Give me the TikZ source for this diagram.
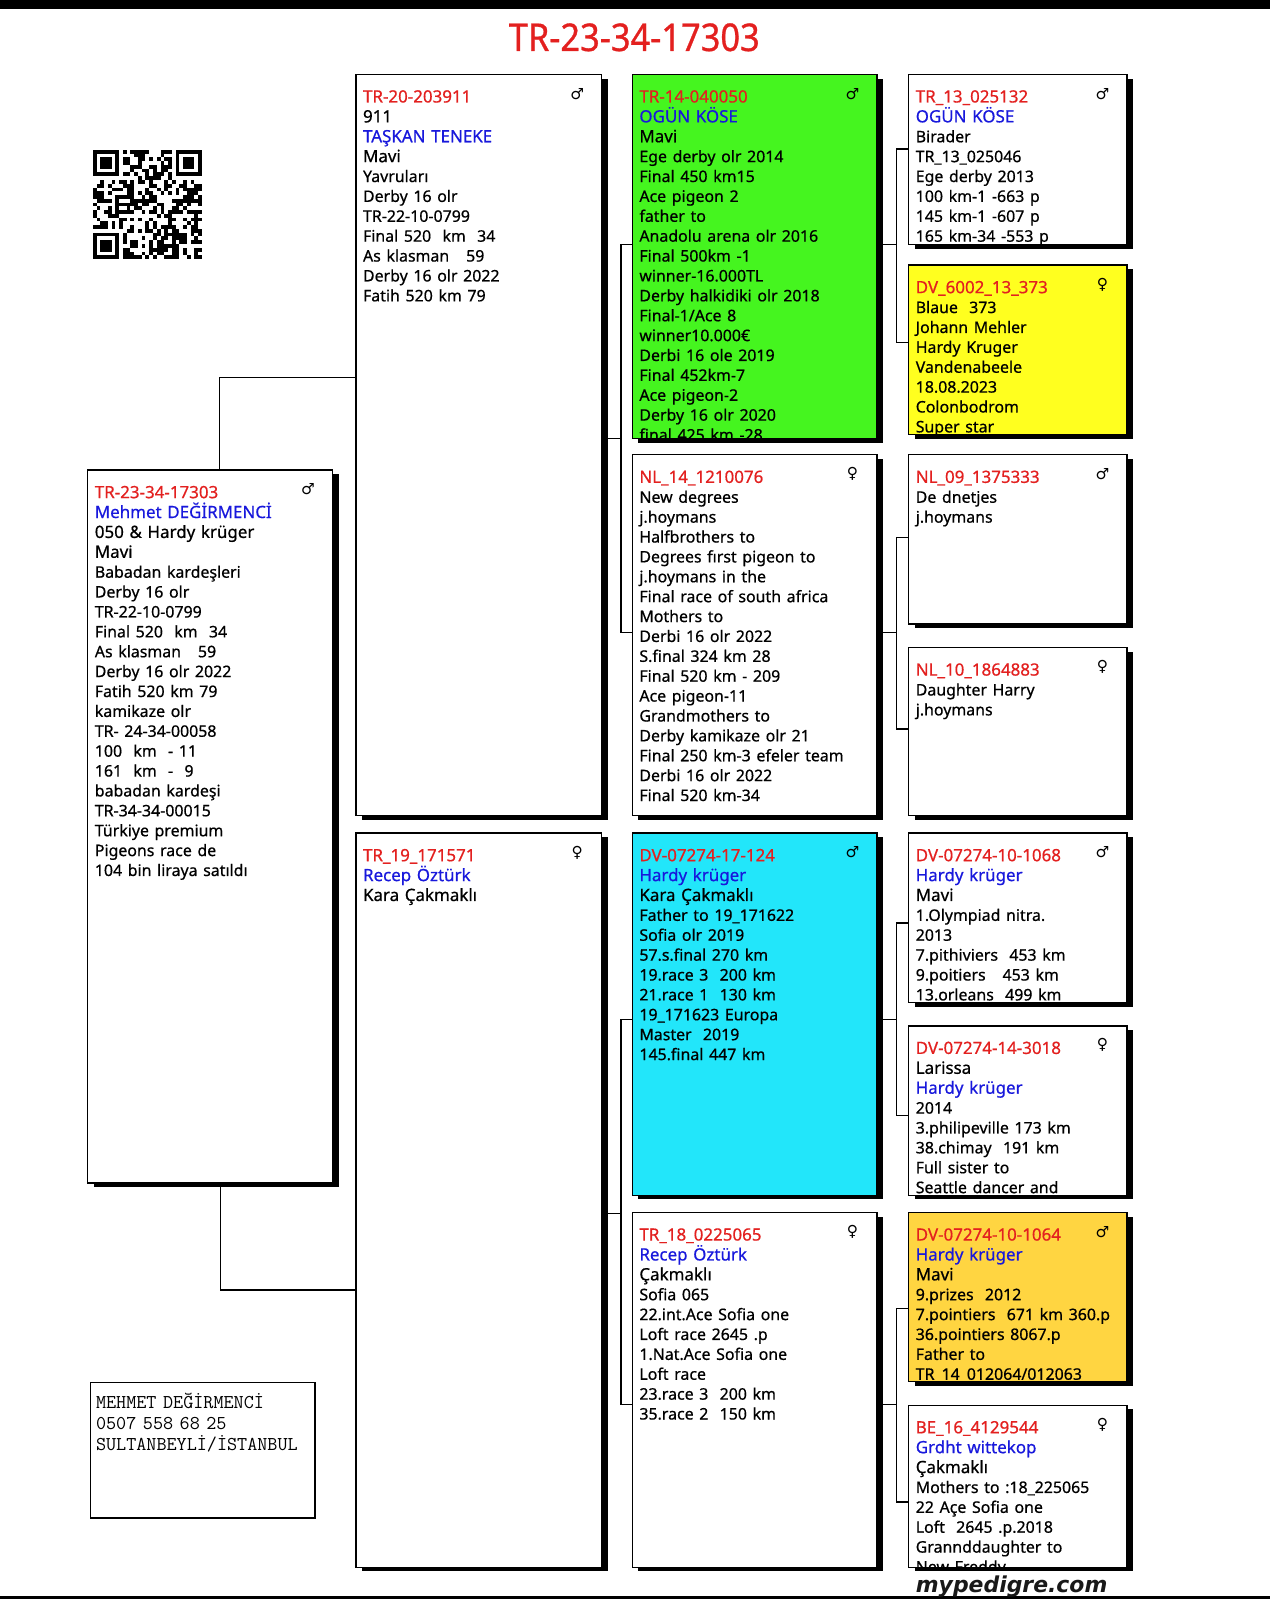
\documentclass[tikz,border=0pt]{standalone}
\usepackage{fontspec}
\setmainfont{Noto Sans}[FakeBold=0.6]
\newfontfamily\isaretfont{DejaVu Sans}
\newfontfamily\baslikfont{Noto Sans}[FakeStretch=0.9,FakeBold=0.8]
\newfontfamily\logofont{DejaVu Sans}
\usepackage{xcolor}
\usepackage{tikz}
\usetikzlibrary{backgrounds}

\definecolor{kirmizi}{HTML}{E3201F}
\definecolor{mavi}{HTML}{1818DC}
\definecolor{yesil}{HTML}{45F51F}
\definecolor{camgobegi}{HTML}{22E6FA}
\definecolor{sari}{HTML}{FFFF1F}
\definecolor{altin}{HTML}{FFD541}

\newcommand{\buyuk}{\fontsize{16.6}{19.5}\selectfont}
\newcommand{\kucuk}{\fontsize{15.6}{19.5}\selectfont}
\newcommand{\halka}[1]{\textcolor{kirmizi}{#1}}
\newcommand{\sahip}[1]{\textcolor{mavi}{#1}}

\begin{document}
\begin{tikzpicture}[x=1pt,y=-1pt,
  kutu/.style={draw, line width=1.3pt, rectangle, anchor=north west, inner sep=0pt, outer sep=0pt, fill=white},
  yazi/.style={shape=rectangle, draw=none, fill=none, anchor=base west, inner sep=0pt, outer sep=0pt,
    minimum width=0pt, minimum height=0pt, xshift=7pt, yshift=-27.5pt, text width=300pt, align=left, font=\buyuk},
  cins/.style={font=\isaretfont\fontsize{15}{15}\selectfont, inner sep=0pt, xshift=-24pt, yshift=-19pt},
  hat/.style={line width=1.3pt}]
\useasboundingbox (0,0) rectangle (1245,1568);

% üst ve alt şerit
\fill (0,0) rectangle (1245,9);
\fill (0,1565.5) rectangle (1245,1568);

% başlık
\node[font=\baslikfont\fontsize{37.5}{40}\selectfont, text=kirmizi, anchor=base, inner sep=0pt] (baslik) at (622,50) {TR-23-34-17303};

% karekod
\begin{scope}[shift={(91,147)}, x=3.69pt, y=-3.69pt]
  \pgfmathsetseed{2024}
  \foreach \i in {0,...,28}{\foreach \j in {0,...,28}{
    \pgfmathsetmacro{\qrv}{rnd}
    \ifdim\qrv pt>0.5pt\relax \fill (\i,\j) rectangle ++(1,1);\fi}}
  \foreach \fx/\fy in {0/0,22/0,0/22}{
    \fill[white] (\fx-1,\fy-1) rectangle ++(9,9);
    \fill (\fx,\fy) rectangle ++(7,7);
    \fill[white] (\fx+1,\fy+1) rectangle ++(5,5);
    \fill (\fx+2,\fy+2) rectangle ++(3,3);}
\end{scope}

% 1. kuşak
\node[kutu, minimum width=240pt, minimum height=699pt, path picture={\node[yazi] (subj-y) at (path picture bounding box.north west) {\halka{TR-23-34-17303}\\ \sahip{Mehmet DEĞİRMENCİ}\\ 050 \& Hardy krüger\\ Mavi\\ \kucuk Babadan kardeşleri\\ Derby 16 olr\\ TR-22-10-0799\\ Final 520~ km~ 34\\ As klasman~~ 59\\ Derby 16 olr 2022\\ Fatih 520 km 79\\ kamikaze olr\\ TR- 24-34-00058\\ 100~ km~ - 11\\ 161~ km~ -~ 9\\ babadan kardeşi\\ TR-34-34-00015\\ Türkiye premium\\ Pigeons race de\\ 104 bin liraya satıldı};}] (subj) at (86,461) {};
\node[cins] (subj-c) at (subj.north east) {♂};

% 2. kuşak
\node[kutu, minimum width=241pt, minimum height=727pt, path picture={\node[yazi] (sire-y) at (path picture bounding box.north west) {\halka{TR-20-203911}\\ 911\\ \sahip{TAŞKAN TENEKE}\\ Mavi\\ \kucuk Yavruları\\ Derby 16 olr\\ TR-22-10-0799\\ Final 520~ km~ 34\\ As klasman~~ 59\\ Derby 16 olr 2022\\ Fatih 520 km 79};}] (sire) at (349,73) {};
\node[cins] (sire-c) at (sire.north east) {♂};

\node[kutu, minimum width=241pt, minimum height=720pt, path picture={\node[yazi] (dam-y) at (path picture bounding box.north west) {\halka{TR\_19\_171571}\\ \sahip{Recep Öztürk}\\ Kara Çakmaklı};}] (dam) at (349,817) {};
\node[cins] (dam-c) at (dam.north east) {♀};

% 3. kuşak
\node[kutu, fill=yesil, minimum width=240pt, minimum height=357pt, path picture={\node[yazi] (c1-y) at (path picture bounding box.north west) {\halka{TR-14-040050}\\ \sahip{OGÜN KÖSE}\\ Mavi\\ \kucuk Ege derby olr 2014\\ Final 450 km15\\ Ace pigeon 2\\ father to\\ Anadolu arena olr 2016\\ Final 500km -1\\ winner-16.000TL\\ Derby halkidiki olr 2018\\ Final-1/Ace 8\\ winner10.000€\\ Derbi 16 ole 2019\\ Final 452km-7\\ Ace pigeon-2\\ Derby 16 olr 2020\\ final 425 km -28};}] (c1) at (620,73) {};
\node[cins] (c1-c) at (c1.north east) {♂};

\node[kutu, minimum width=240pt, minimum height=354pt, path picture={\node[yazi] (c2-y) at (path picture bounding box.north west) {\halka{NL\_14\_1210076}\\ \kucuk New degrees\\ j.hoymans\\ Halfbrothers to\\ Degrees fırst pigeon to\\ j.hoymans in the\\ Final race of south africa\\ Mothers to\\ Derbi 16 olr 2022\\ S.final 324 km 28\\ Final 520 km - 209\\ Ace pigeon-11\\ Grandmothers to\\ Derby kamikaze olr 21\\ Final 250 km-3 efeler team\\ Derbi 16 olr 2022\\ Final 520 km-34};}] (c2) at (620,446) {};
\node[cins] (c2-c) at (c2.north east) {♀};

\node[kutu, fill=camgobegi, minimum width=240pt, minimum height=355pt, path picture={\node[yazi] (c3-y) at (path picture bounding box.north west) {\halka{DV-07274-17-124}\\ \sahip{Hardy krüger}\\ Kara Çakmaklı\\ \kucuk Father to 19\_171622\\ Sofia olr 2019\\ 57.s.final 270 km\\ 19.race 3~ 200 km\\ 21.race 1~ 130 km\\ 19\_171623 Europa\\ Master~ 2019\\ 145.final 447 km};}] (c3) at (620,817) {};
\node[cins] (c3-c) at (c3.north east) {♂};

\node[kutu, minimum width=240pt, minimum height=348pt, path picture={\node[yazi] (c4-y) at (path picture bounding box.north west) {\halka{TR\_18\_0225065}\\ \sahip{Recep Öztürk}\\ Çakmaklı\\ \kucuk Sofia 065\\ 22.int.Ace Sofia one\\ Loft race 2645 .p\\ 1.Nat.Ace Sofia one\\ Loft race\\ 23.race 3~ 200 km\\ 35.race 2~ 150 km};}] (c4) at (620,1189) {};
\node[cins] (c4-c) at (c4.north east) {♀};

% 4. kuşak
\node[kutu, minimum width=214pt, minimum height=167pt, path picture={\node[yazi] (d1-y) at (path picture bounding box.north west) {\halka{TR\_13\_025132}\\ \sahip{OGÜN KÖSE}\\ \kucuk Birader\\ TR\_13\_025046\\ Ege derby 2013\\ 100 km-1 -663 p\\ 145 km-1 -607 p\\ 165 km-34 -553 p};}] (d1) at (891,73) {};
\node[cins] (d1-c) at (d1.north east) {♂};

\node[kutu, fill=sari, minimum width=214pt, minimum height=166pt, path picture={\node[yazi] (d2-y) at (path picture bounding box.north west) {\halka{DV\_6002\_13\_373}\\ \kucuk Blaue~ 373\\ Johann Mehler\\ Hardy Kruger\\ Vandenabeele\\ 18.08.2023\\ Colonbodrom\\ Super star};}] (d2) at (891,260) {};
\node[cins] (d2-c) at (d2.north east) {♀};

\node[kutu, minimum width=214pt, minimum height=166pt, path picture={\node[yazi] (d3-y) at (path picture bounding box.north west) {\halka{NL\_09\_1375333}\\ \kucuk De dnetjes\\ j.hoymans};}] (d3) at (891,446) {};
\node[cins] (d3-c) at (d3.north east) {♂};

\node[kutu, minimum width=214pt, minimum height=165pt, path picture={\node[yazi] (d4-y) at (path picture bounding box.north west) {\halka{NL\_10\_1864883}\\ \kucuk Daughter Harry\\ j.hoymans};}] (d4) at (891,635) {};
\node[cins] (d4-c) at (d4.north east) {♀};

\node[kutu, minimum width=214pt, minimum height=166pt, path picture={\node[yazi] (d5-y) at (path picture bounding box.north west) {\halka{DV-07274-10-1068}\\ \sahip{Hardy krüger}\\ Mavi\\ \kucuk 1.Olympiad nitra.\\ 2013\\ 7.pithiviers~ 453 km\\ 9.poitiers~~ 453 km\\ 13.orleans~ 499 km};}] (d5) at (891,817) {};
\node[cins] (d5-c) at (d5.north east) {♂};

\node[kutu, minimum width=214pt, minimum height=166pt, path picture={\node[yazi] (d6-y) at (path picture bounding box.north west) {\halka{DV-07274-14-3018}\\ Larissa\\ \sahip{Hardy krüger}\\ \kucuk 2014\\ 3.philipeville 173 km\\ 38.chimay~ 191 km\\ Full sister to\\ Seattle dancer and};}] (d6) at (891,1006) {};
\node[cins] (d6-c) at (d6.north east) {♀};

\node[kutu, fill=altin, minimum width=214pt, minimum height=166pt, path picture={\node[yazi] (d7-y) at (path picture bounding box.north west) {\halka{DV-07274-10-1064}\\ \sahip{Hardy krüger}\\ Mavi\\ \kucuk 9.prizes~ 2012\\ 7.pointiers~ 671 km 360.p\\ 36.pointiers 8067.p\\ Father to\\ TR\_14\_012064/012063};}] (d7) at (891,1189) {};
\node[cins] (d7-c) at (d7.north east) {♂};

\node[kutu, minimum width=214pt, minimum height=159pt, path picture={\node[yazi] (d8-y) at (path picture bounding box.north west) {\halka{BE\_16\_4129544}\\ \sahip{Grdht wittekop}\\ Çakmaklı\\ \kucuk Mothers to :18\_225065\\ 22 Açe Sofia one\\ Loft~ 2645 .p.2018\\ Grannddaughter to\\ New Freddy};}] (d8) at (891,1378) {};
\node[cins] (d8-c) at (d8.north east) {♀};

% gölgeler
\begin{pgfonlayer}{background}
\foreach \k in {subj,sire,dam,c1,c2,c3,c4,d1,d2,d3,d4,d5,d6,d7,d8}
  \fill ([shift={(6pt,-4pt)}]\k.north west) rectangle ([shift={(6pt,-4pt)}]\k.south east);
\end{pgfonlayer}

% ========== bağlantılar ==========
\draw[hat] ([xshift=9pt]subj.north) |- (sire.west |- 0,370);
\draw[hat] ([xshift=10pt]subj.south) |- (dam.west |- 0,1265);

% 2. kuşak -> 3. kuşak
\draw[hat] (sire.east |- 0,430) -- (609,430);
\draw[hat] (c1.west |- 0,240) -| (609,620) -- (c2.west |- 0,620);
\draw[hat] (dam.east |- 0,1190) -- (609,1190);
\draw[hat] (c3.west |- 0,1000) -| (609,1377) -- (c4.west |- 0,1377);

% 3. kuşak -> 4. kuşak
\draw[hat] (c1.east |- 0,240) -- (879,240);
\draw[hat] (d1.west |- 0,146) -| (879,336) -- (d2.west |- 0,336);
\draw[hat] (c2.east |- 0,620) -- (879,620);
\draw[hat] (d3.west |- 0,527) -| (879,715) -- (d4.west |- 0,715);
\draw[hat] (c3.east |- 0,1000) -- (879,1000);
\draw[hat] (d5.west |- 0,905) -| (879,1094) -- (d6.west |- 0,1094);
\draw[hat] (c4.east |- 0,1377) -- (879,1377);
\draw[hat] (d7.west |- 0,1283) -| (879,1473) -- (d8.west |- 0,1473);

% adres
\node[draw, line width=1.6pt, anchor=north west, inner sep=0pt, minimum width=220pt, minimum height=133pt] (adres) at (88,1355) {};
\node[anchor=base west, inner sep=0pt, xshift=6pt, yshift=-26pt, text width=210pt, align=left, font=\ttfamily\fontsize{19.2}{20.5}\selectfont] (adres-y) at (adres.north west) {MEHMET DEĞİRMENCİ\\ 0507 558 68 25\\ SULTANBEYLİ/İSTANBUL};

% site adı
\node[font=\logofont\bfseries\itshape\fontsize{21.5}{22}\selectfont, text=black!90, anchor=base, inner sep=0pt] (logo) at (992,1562) {mypedigre.com};
\end{tikzpicture}
\end{document}
